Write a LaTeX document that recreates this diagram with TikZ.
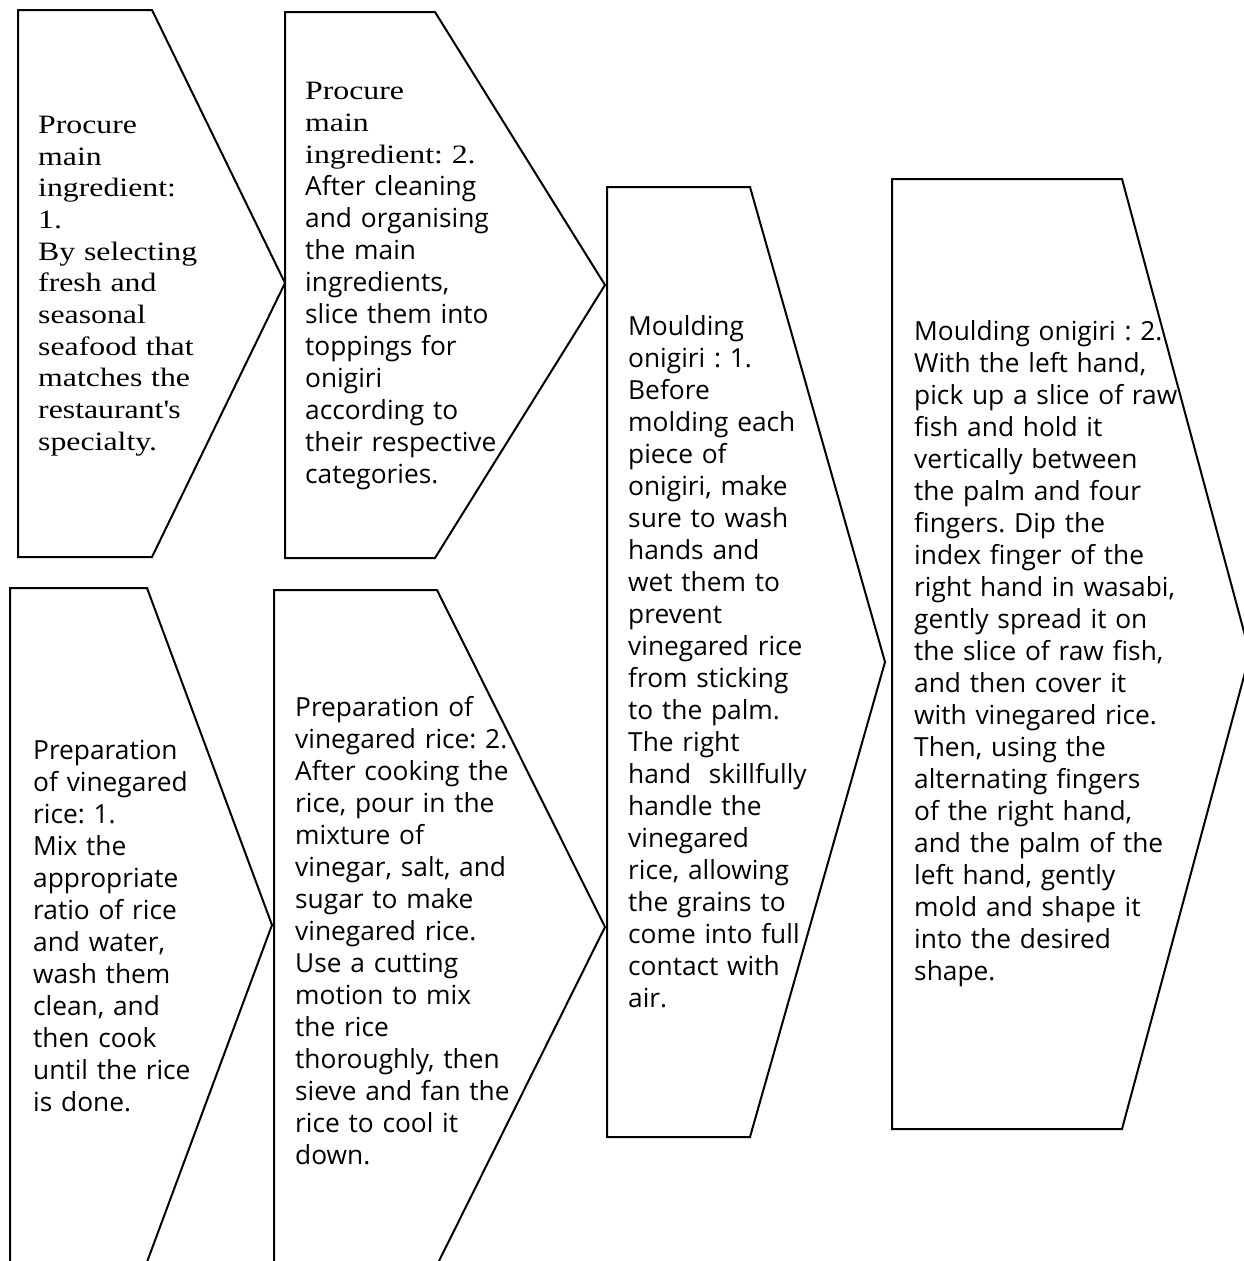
\documentclass[tikz,border=0pt]{standalone}
\usepackage{fontspec}
\newfontfamily\serf[FakeStretch=1.2]{Liberation Serif}
\newfontfamily\sanf{Open Sans}
\AtBeginDocument{\frenchspacing}
\tikzset{
  arrowbox/.style={draw=black,line width=2pt,line join=miter,fill=white},
  serftext/.style={anchor=west,inner sep=0pt,text width=320pt,align=left,font=\frenchspacing\serf\fontsize{26.5}{31.7}\selectfont},
  sanstext/.style={anchor=west,inner sep=0pt,text width=340pt,align=left,font=\frenchspacing\sanf\fontsize{26.3}{32}\selectfont},
}
\begin{document}
\begin{tikzpicture}[x=1pt,y=-1pt]
\useasboundingbox (0,0) rectangle (1243,1261);
% shapes
\draw[arrowbox] (18,10) -- (152,10) -- (285,283) -- (152,557) -- (18,557) -- cycle;
\draw[arrowbox] (285,12) -- (435,12) -- (605,285) -- (435,558) -- (285,558) -- cycle;
\draw[arrowbox] (10,588) -- (147,588) -- (272,925) -- (147,1262) -- (10,1262) -- cycle;
\draw[arrowbox] (274,590) -- (437,590) -- (605,927) -- (437,1265) -- (274,1265) -- cycle;
\draw[arrowbox] (607,187) -- (750,187) -- (885,662) -- (750,1137) -- (607,1137) -- cycle;
\draw[arrowbox] (892,179) -- (1122,179) -- (1250,654) -- (1122,1129) -- (892,1129) -- cycle;
% texts
\node[serftext] (t1) at (38,286) {Procure\\main\\ingredient:\\1.\\By selecting\\fresh and\\seasonal\\seafood that\\matches the\\restaurant\textquotesingle s\\specialty.};
\node[serftext] (t2) at (305,286) {Procure\\main\\ingredient: 2.\\\sanf\fontsize{26.3}{32}\selectfont After cleaning\\and organising\\the main\\ingredients,\\slice them into\\toppings for\\onigiri\\according to\\their respective\\categories.};
\node[sanstext] (t3) at (33,926) {Preparation\\of vinegared\\rice: 1.\\Mix the\\appropriate\\ratio of rice\\and water,\\wash them\\clean, and\\then cook\\until the rice\\is done.};
\node[sanstext] (t4) at (295,931) {Preparation of\\vinegared rice: 2.\\After cooking the\\rice, pour in the\\mixture of\\vinegar, salt, and\\sugar to make\\vinegared rice.\\Use a cutting\\motion to mix\\the rice\\thoroughly, then\\sieve and fan the\\rice to cool it\\down.};
\node[sanstext] (t5) at (628,662) {Moulding\\onigiri : 1.\\Before\\molding each\\piece of\\onigiri, make\\sure to wash\\hands and\\wet them to\\prevent\\vinegared rice\\from sticking\\to the palm.\\The right\\hand\ \ skillfully\\handle the\\vinegared\\rice, allowing\\the grains to\\come into full\\contact with\\air.};
\node[sanstext] (t6) at (914,654) {Moulding onigiri : 2.\\With the left hand,\\pick up a slice of raw\\fish and hold it\\vertically between\\the palm and four\\fingers. Dip the\\index finger of the\\right hand in wasabi,\\gently spread it on\\the slice of raw fish,\\and then cover it\\with vinegared rice.\\Then, using the\\alternating fingers\\of the right hand,\\and the palm of the\\left hand, gently\\mold and shape it\\into the desired\\shape.};
\end{tikzpicture}
\end{document}
